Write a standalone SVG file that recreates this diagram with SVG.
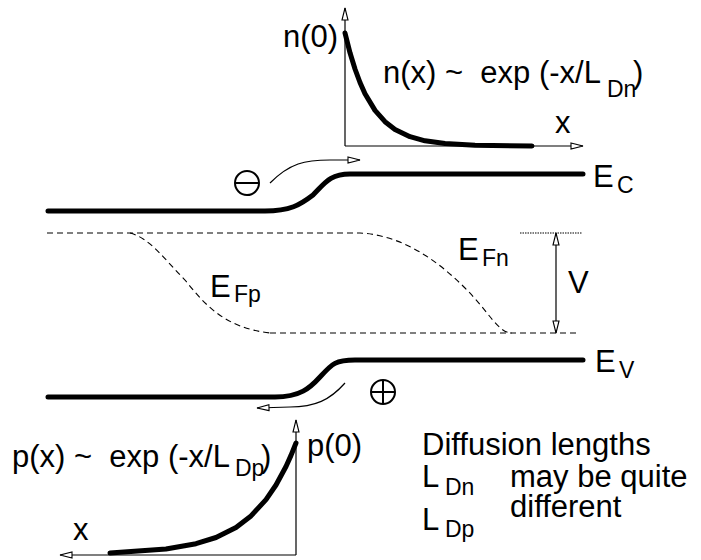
<svg xmlns="http://www.w3.org/2000/svg" width="701" height="560" viewBox="0 0 701 560">
<style>
text{font-family:"Liberation Sans",Arial,sans-serif;fill:#000;white-space:pre}
.m{font-size:31px}
.s{font-size:23px}
.thin{fill:none;stroke:#000;stroke-width:1.2}
.thick{fill:none;stroke:#000;stroke-width:5;stroke-linecap:round;stroke-linejoin:round}
.band{fill:none;stroke:#000;stroke-width:5;stroke-linecap:round}
.dash{fill:none;stroke:#000;stroke-width:1.1;stroke-dasharray:6,4}
</style>
<defs>
<marker id="ah" markerUnits="userSpaceOnUse" markerWidth="14" markerHeight="10" refX="13" refY="4" orient="auto-start-reverse" viewBox="0 0 14 8">
<path d="M1,1 L13,4 L1,7 Z" fill="#fff" stroke="#000" stroke-width="1.1"/>
</marker>
</defs>
<rect width="701" height="560" fill="#fff"/>

<g id="top-graph">
<path class="thin" d="M345,146 L345,8" marker-end="url(#ah)"/>
<path class="thin" d="M345,146 L583,146" marker-end="url(#ah)"/>
<path class="thick" d="M345,33 L350,52.8 L355,69 L360,82.5 L365,93.7 L375,110.4 L385,121.7 L395,129.5 L410,136.7 L425,140.8 L445,143.6 L475,145.2 L532,146"/>
<text class="m" x="283" y="47">n(0)</text>
<text class="m" x="383" y="83">n(x) ~  exp (-x/L</text>
<text class="s" x="607" y="97">Dn</text>
<text class="m" x="633" y="83">)</text>
<text class="m" x="555" y="133">x</text>
</g>

<g id="conduction-band">
<path class="band" d="M48,211 L265,211 C290,211 300,205 313,195 C325,183 330,174 350,174 L583,174"/>
<text class="m" x="593" y="187">E</text>
<text class="s" x="617" y="193">C</text>
</g>

<g id="electron">
<circle cx="247" cy="183" r="12" fill="none" stroke="#000" stroke-width="2"/>
<line x1="235" y1="183" x2="259" y2="183" stroke="#000" stroke-width="2"/>
</g>

<g id="fermi-levels">
<path class="dash" d="M47,233 L360,233 C400,235 435,258 465,288 C490,313 498,333 512,333"/>
<path class="dash" d="M130,233 C150,238 165,260 185,280 C205,305 225,328 270,333"/>
<path class="dash" d="M270,333 L580,333"/>
<text class="m" x="458" y="260">E</text>
<text class="s" x="482" y="266">Fn</text>
<text class="m" x="210" y="297">E</text>
<text class="s" x="234" y="302">Fp</text>
</g>

<g id="voltage">
<line x1="520" y1="233" x2="582" y2="233" stroke="#000" stroke-width="1.2" stroke-dasharray="1.5,1"/>
<path class="thin" d="M556,233 L556,333" marker-start="url(#ah)" marker-end="url(#ah)"/>
<text class="m" x="568" y="293">V</text>
</g>

<g id="valence-band">
<path class="band" d="M48,397 L275,397 C300,397 310,388 320,377 C332,364 335,360 355,360 L583,360"/>
<text class="m" x="595" y="372">E</text>
<text class="s" x="619" y="378">V</text>
</g>

<g id="hole">
<circle cx="383" cy="392" r="12" fill="none" stroke="#000" stroke-width="2"/>
<line x1="371" y1="392" x2="395" y2="392" stroke="#000" stroke-width="2"/>
<line x1="383" y1="380" x2="383" y2="404" stroke="#000" stroke-width="2"/>
</g>

<g id="connectors">
<path class="thin" d="M270,183 C290,163 305,160 330,160 L360,160" marker-end="url(#ah)"/>
<path class="thin" d="M345,383 C330,400 315,407 290,407 L257,408" marker-end="url(#ah)"/>
</g>

<g id="bottom-graph">
<path class="thin" d="M296,555 L296,420" marker-end="url(#ah)"/>
<path class="thin" d="M296,555 L60,555" marker-end="url(#ah)"/>
<path class="thick" d="M296,443 L291,455.4 L286,466.5 L276,485 L266,499.6 L251,515.9 L236,527.4 L216,537.5 L196,543.7 L166,549 L110,553"/>
<text class="m" x="307" y="456">p(0)</text>
<text class="m" x="12" y="467">p(x) ~  exp (-x/L</text>
<text class="s" x="235" y="476">Dp</text>
<text class="m" x="261" y="467">)</text>
<text class="m" x="73" y="540">x</text>
</g>

<g id="note">
<text class="m" x="422" y="455">Diffusion lengths</text>
<text class="m" x="422" y="487">L</text>
<text class="s" x="445" y="495">Dn</text>
<text class="m" x="422" y="530">L</text>
<text class="s" x="445" y="537">Dp</text>
<text class="m" x="510" y="487">may be quite</text>
<text class="m" x="510" y="517">different</text>
</g>
</svg>
